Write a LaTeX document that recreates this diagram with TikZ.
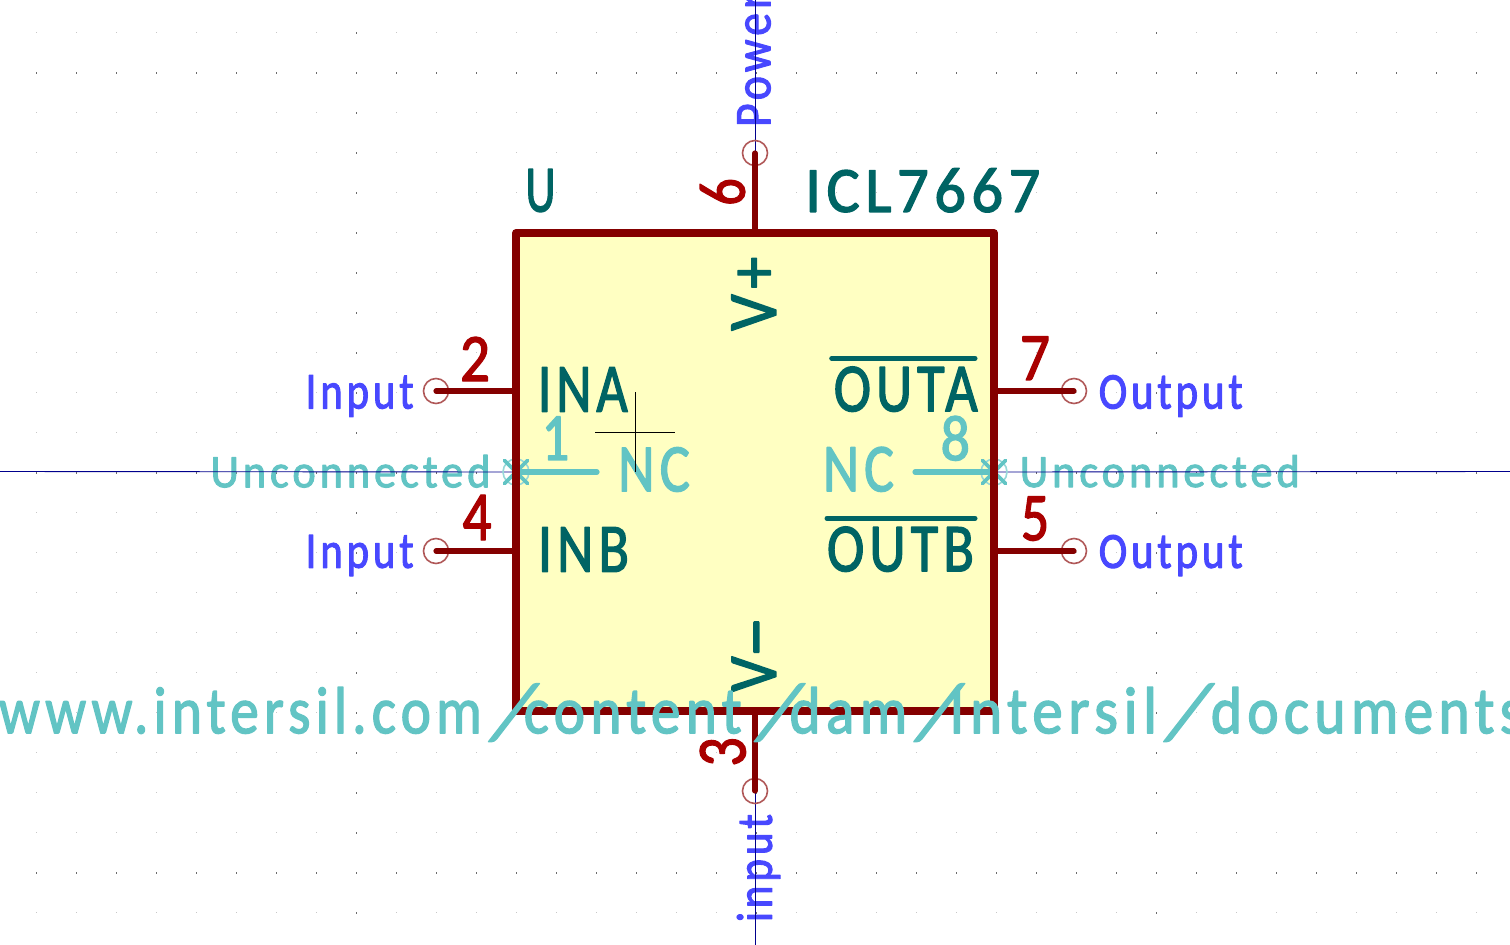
\documentclass[tikz,border=0pt]{standalone}
\usepackage{fontspec}
\setmainfont{Carlito}
\newfontfamily\kf[FakeBold=2.1,LetterSpace=9]{Carlito}
\newcommand{\fitxt}[3]{\resizebox*{#1pt}{#2pt}{\kf\fontsize{40}{40}\selectfont #3}}
\newcommand{\wsl}{\kern0.14em\special{pdf:btrans matrix 1.4 0 0.4 1.18 0 -3}/\special{pdf:etrans}\kern0.18em}
\definecolor{kred}{HTML}{840000}
\definecolor{knum}{HTML}{A90000}
\definecolor{kteal}{HTML}{006464}
\definecolor{klight}{HTML}{62C4C4}
\definecolor{kring}{HTML}{98D8D8}
\definecolor{kblue}{HTML}{4848FF}
\definecolor{kaxis}{HTML}{00008C}
\definecolor{kend}{HTML}{B05858}
\definecolor{kfill}{HTML}{FFFFC2}
\tikzset{
  lbl/.style={inner sep=0pt,outer sep=0pt},
  tealtxt/.style={lbl,text=kteal},
  numtxt/.style={lbl,text=knum},
  lighttxt/.style={lbl,text=klight},
  bluetxt/.style={lbl,text=kblue},
  axisline/.style={draw=kaxis,line width=0.9pt},
  pinline/.style={draw=kred,line width=5.2pt,line cap=round},
  ncline/.style={draw=klight,line width=5.2pt,line cap=round},
  pinend/.style={circle,draw=kend,line width=1.6pt,minimum size=25pt,inner sep=0pt,outer sep=0pt},
  ncring/.style={circle,draw=kring,line width=1.6pt,minimum size=26pt,inner sep=0pt,outer sep=0pt},
  ncx/.style={draw=klight,line width=3.8pt,line cap=round},
  bodyfill/.style={fill=kfill,inner sep=0pt,outer sep=0pt,minimum width=478pt,minimum height=478pt},
  frame/.style={draw=kred,line width=8pt,line join=round},
  overbar/.style={draw=kteal,line width=5pt,line cap=round},
  cursor/.style={draw=black,line width=0.9pt},
  minordot/.style={fill=black!22},
  majordot/.style={fill=black!58},
}
\begin{document}
\begin{tikzpicture}[x=1pt,y=-1pt,line join=round,line cap=round]
\clip (0,0) rectangle (1510,945);
\fill[white] (0,0) rectangle (1510,945);
% grid
\foreach \i in {0,...,36}{\foreach \j in {0,...,22}{
  \fill[minordot] ({36+40*\i},{32+40*\j}) rectangle ++(1,1);}}
\foreach \i in {0,...,36}{\foreach \j in {1,11,21}{
  \fill[majordot] ({36+40*\i},{72+40*(\j-1)}) rectangle ++(1.2,2);}}
\foreach \i in {8,18,28}{\foreach \j in {0,...,22}{
  \fill[majordot] ({36+40*\i},{32+40*\j}) rectangle ++(1.2,2);}}
% pin-type labels
\node[bluetxt] (t2) at (359.7,396) {\fitxt{108}{41.7}{Input}};
\node[bluetxt] (t4) at (359.7,555.5) {\fitxt{108}{41}{Input}};
\node[bluetxt] (t7) at (1170.8,396) {\fitxt{144}{41.7}{Output}};
\node[bluetxt] (t5) at (1170.8,555.5) {\fitxt{144}{41}{Output}};
\node[bluetxt,rotate=90] (t6) at (754,60) {\fitxt{134}{33.4}{Power}};
\node[bluetxt,rotate=90] (t3) at (758.5,868) {\fitxt{108}{43}{input}};
\node[lighttxt] (t1) at (350.5,471.3) {\fitxt{280}{32.7}{Unconnected}};
\node[lighttxt] (t8) at (1159.8,471.2) {\fitxt{280}{32.3}{Unconnected}};
% axes
\coordinate (axw) at (0,471.5);
\coordinate (axe) at (1510,471.5);
\coordinate (axn) at (755,0);
\coordinate (axs) at (755,945);
% body
\node[bodyfill] (ic) at (755,472) {};
\draw[axisline] (axw) -- (ic.west);
\draw[axisline] (ic.east) -- (axe);
\draw[axisline] (axn) -- (ic.north);
\draw[axisline] (ic.south) -- (axs);
% pin ends
\node[pinend] (p2) at (436,391) {};
\node[pinend] (p4) at (436,551) {};
\node[pinend] (p7) at (1074,391) {};
\node[pinend] (p5) at (1074,551) {};
\node[pinend] (p6) at (755,153) {};
\node[pinend] (p3) at (755,791) {};
% no-connect pins
\coordinate (nc1) at (597,472);
\coordinate (nc8) at (915,472);
\node[ncring] (r1) at (ic.west) {};
\node[ncring] (r8) at (ic.east) {};
\draw[ncline] (nc1) -- (ic.west);
\draw[ncline] (nc8) -- (ic.east);
\draw[ncx] ([shift={(-11.5,-11.5)}]r1.center) -- ([shift={(11.5,11.5)}]r1.center);
\draw[ncx] ([shift={(11.5,-11.5)}]r1.center) -- ([shift={(-11.5,11.5)}]r1.center);
\draw[ncx] ([shift={(-11.5,-11.5)}]r8.center) -- ([shift={(11.5,11.5)}]r8.center);
\draw[ncx] ([shift={(11.5,-11.5)}]r8.center) -- ([shift={(-11.5,11.5)}]r8.center);
% frame and pins
\draw[frame] (ic.north west) rectangle (ic.south east);
\draw[pinline] (ic.west |- p2) -- (p2.center);
\draw[pinline] (ic.west |- p4) -- (p4.center);
\draw[pinline] (ic.east |- p7) -- (p7.center);
\draw[pinline] (ic.east |- p5) -- (p5.center);
\draw[pinline] (ic.north) -- (p6.center);
\draw[pinline] (ic.south) -- (p3.center);
% field and pin names
\node[tealtxt] (ref) at (540.5,190.5) {\fitxt{30}{43}{U}};
\node[tealtxt] (val) at (922.8,190.3) {\fitxt{235}{44}{ICL7667}};
\node[tealtxt] (ina) at (582.8,389.5) {\fitxt{90}{44.4}{INA}};
\node[tealtxt] (inb) at (583.5,549.5) {\fitxt{91}{44.4}{INB}};
\node[tealtxt] (outa) at (905.8,389.2) {\fitxt{144}{45}{OUTA}};
\node[tealtxt] (outb) at (900.5,549.2) {\fitxt{147}{45}{OUTB}};
\coordinate (oa1) at (831.7,358.3);
\coordinate (oa2) at (975,358.3);
\coordinate (ob1) at (827,518.3);
\coordinate (ob2) at (975,518.3);
\draw[overbar] (oa1) -- (oa2);
\draw[overbar] (ob1) -- (ob2);
\node[tealtxt,rotate=90] (vp) at (753.8,293.7) {\fitxt{74}{44.3}{V+}};
\node[tealtxt,rotate=90] (vm) at (753.8,655) {\fitxt{74}{44}{V\scalebox{2}[1]{-}}};
% pin numbers
\node[numtxt] (n2) at (475,359) {\fitxt{30}{44}{2}};
\node[numtxt] (n4) at (477,517.5) {\fitxt{29}{45}{4}};
\node[numtxt] (n7) at (1035,358.3) {\fitxt{30}{43.3}{7}};
\node[numtxt] (n5) at (1035,518.7) {\fitxt{28.3}{44}{5}};
\node[numtxt,rotate=90] (n6) at (722.5,192) {\fitxt{27.4}{45}{6}};
\node[numtxt,rotate=90] (n3) at (722.8,752) {\fitxt{29.4}{45.7}{3}};
% hidden pin texts
\node[lighttxt] (n1) at (555.5,438.3) {\fitxt{27.6}{43.3}{1}};
\node[lighttxt] (n8) at (955.3,438.3) {\fitxt{29.3}{44.7}{8}};
\node[lighttxt] (ncl) at (654,469.5) {\fitxt{72}{44.4}{NC}};
\node[lighttxt] (ncr) at (858.5,469.3) {\fitxt{71}{44.7}{NC}};
% datasheet field
\node[lighttxt] (url) at (761,711.5) {\fitxt{1524}{49}{\scalebox{0.965}[1]{www.intersil.com}\wsl content\kern0.1em\wsl dam\wsl \scalebox{1.03}[1]{Intersil}\wsl\kern0.2em documents}};
% cursor
\coordinate (cw) at (595,432.3);
\coordinate (ce) at (675,432.3);
\coordinate (cn) at (635.3,392);
\coordinate (cs) at (635.3,472);
\draw[cursor,line cap=butt] (cw) -- (ce);
\draw[cursor,line cap=butt] (cn) -- (cs);
\end{tikzpicture}
\end{document}
